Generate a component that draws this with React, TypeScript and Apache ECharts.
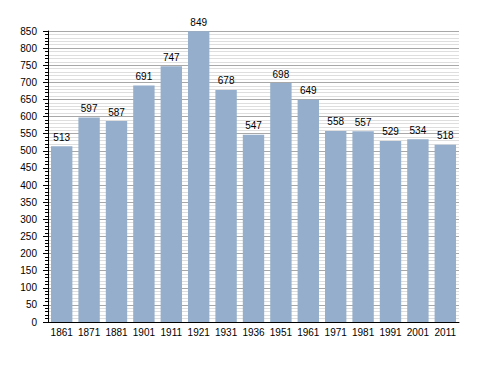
import React, { useEffect, useRef } from "react";
import * as echarts from "echarts";

const years = ["1861", "1871", "1881", "1901", "1911", "1921", "1931", "1936", "1951", "1961", "1971", "1981", "1991", "2001", "2011"];
const population = [513, 597, 587, 691, 747, 849, 678, 547, 698, 649, 558, 557, 529, 534, 518];

const FONT = "Liberation Sans, Arial, sans-serif";

export default function App() {
  const ref = useRef<HTMLDivElement>(null);
  useEffect(() => {
    const chart = echarts.init(ref.current!, null, { renderer: "svg" });
    chart.setOption({
      animation: false,
      grid: { left: 48, right: 29, top: 31, bottom: 51 },
      xAxis: {
        type: "category",
        data: years,
        axisLine: { lineStyle: { color: "#000", width: 1 } },
        axisTick: { show: false },
        axisLabel: { color: "#000", fontFamily: FONT, fontSize: 10, margin: 5, interval: 0 },
      },
      yAxis: {
        type: "value",
        min: 0,
        max: 850,
        interval: 50,
        axisLine: { show: true, lineStyle: { color: "#000", width: 1 } },
        axisTick: { show: true, length: 5, lineStyle: { color: "#000" } },
        minorTick: { show: true, splitNumber: 5, length: 3, lineStyle: { color: "#000" } },
        splitLine: { show: true, lineStyle: { color: "#a8a8a8", width: 1 } },
        minorSplitLine: { show: true, lineStyle: { color: "#dedede", width: 1 } },
        axisLabel: { color: "#000", fontFamily: FONT, fontSize: 10, margin: 11 },
      },
      series: [
        {
          type: "bar",
          data: population,
          barCategoryGap: "22%",
          itemStyle: { color: "#94aecb" },
          label: {
            show: true,
            position: "top",
            distance: 4,
            color: "#000",
            fontFamily: FONT,
            fontSize: 10,
          },
        },
      ],
    });
    return () => chart.dispose();
  }, []);
  return <div ref={ref} style={{ width: 488, height: 373, position: "absolute", left: 0, top: 0 }} />;
}
